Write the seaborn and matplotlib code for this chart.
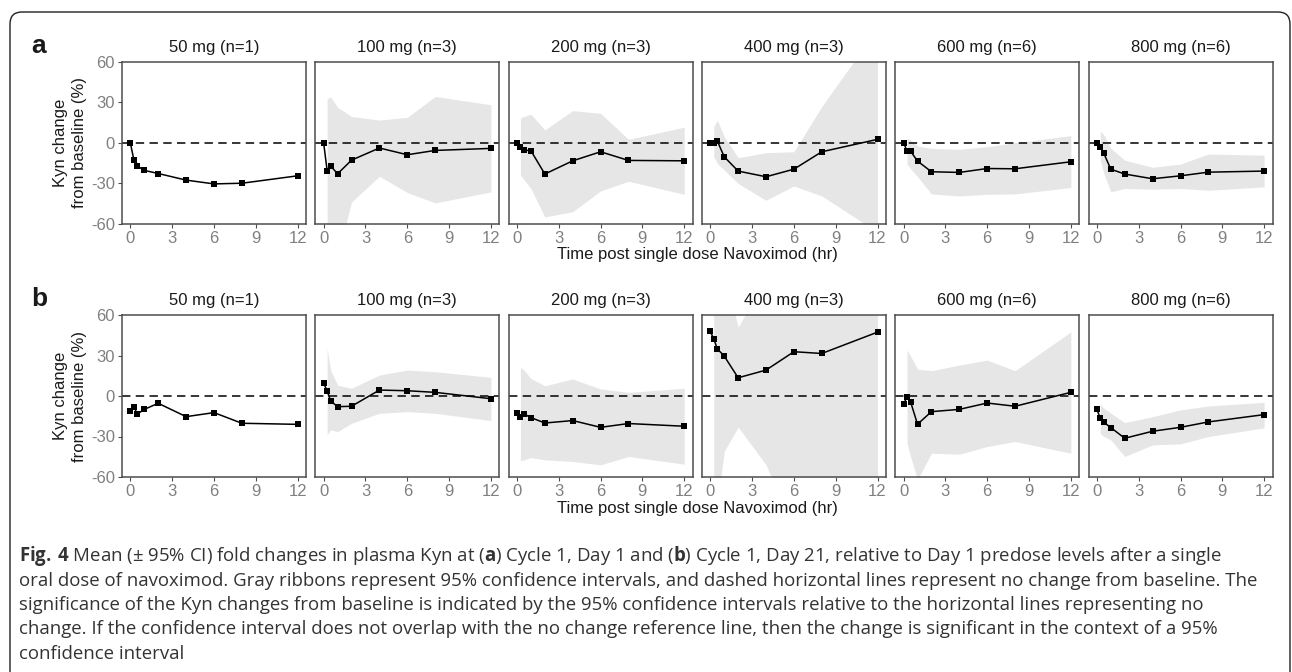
import numpy as np
import pandas as pd
import matplotlib.pyplot as plt
import seaborn as sns
from matplotlib.patches import FancyBboxPatch

# sampling times (hr) and dose groups
times = [0, 0.25, 0.5, 1, 2, 4, 6, 8, 12]
ci_times = [0.25, 0.5, 1, 2, 4, 6, 8, 12]
doses = ["50 mg (n=1)", "100 mg (n=3)", "200 mg (n=3)",
         "400 mg (n=3)", "600 mg (n=6)", "800 mg (n=6)"]

# (a) Cycle 1, Day 1 - mean % change
a_mean = [
    [0, -12.4, -17, -20.3, -22.6, -27.5, -30.3, -29.8, -24.3],
    [0, -20.6, -17, -22.8, -12.7, -3.7, -8.7, -5.5, -4],
    [0, -3, -5.2, -5.7, -23, -13.2, -6.5, -12.9, -13.2],
    [0, 0.2, 1.7, -10.2, -20.8, -25, -19.4, -6.5, 2.7],
    [0, -5.7, -6, -13.4, -21.3, -21.8, -18.9, -19.1, -13.9],
    [0, -3.2, -7.7, -19.4, -23, -26.5, -24.3, -21.6, -20.8],
]
a_lo = [
    None,
    [-100, -95, -84, -43.7, -24.6, -36.7, -44.4, -36.2],
    [-23.8, -27, -33.7, -54.8, -50.9, -35.5, -28.3, -38],
    [-10.2, -15, -20, -30, -42.4, -31.8, -39.2, -66],
    [-15.6, -19, -25, -37.7, -39.2, -38, -37.7, -33],
    [-12.7, -22.6, -36.2, -33.7, -34.2, -33.7, -35, -32.5],
]
a_hi = [
    None,
    [33, 34, 26.5, 19.6, 17, 19, 34.5, 28.3],
    [18.4, 19.6, 21.3, 9.7, 24, 22, 2.7, 11.7],
    [12, 17, 4.7, -10.9, -7.2, -6.5, 27, 85],
    [3.5, 2.2, -2.2, -4, -4.7, -2.7, 0.2, 5.5],
    [9, 6, -4, -12.7, -18, -15.6, -8.2, -9],
]

# (b) Cycle 1, Day 21 - mean % change
b_mean = [
    [-10.8, -8.1, -13.3, -9.9, -5.4, -15.3, -12.3, -20.2, -21],
    [9.4, 3.9, -3.7, -7.9, -7.6, 4.4, 3.9, 2.7, -2],
    [-12.8, -15.3, -13.3, -16, -20, -18.2, -23.2, -20.4, -22.4],
    [47.8, 42.4, 35, 29.6, 13.5, 19.2, 32.8, 31.5, 47.3],
    [-6.2, -0.5, -4.2, -20.9, -11.6, -9.9, -5.2, -7.6, 2.7],
    [-9.9, -16.5, -19.5, -23.4, -31.3, -26.1, -23.2, -19.2, -13.8],
]
b_lo = [
    None,
    [-28.8, -25, -26.4, -20.2, -12.8, -11.6, -12.8, -18.2],
    [-48, -47.3, -45.6, -47.3, -48.5, -51, -44.8, -50.5],
    [-85, -82, -41, -23, -51, -100, -100, -110],
    [-35, -44.8, -62, -42.4, -43.1, -37.4, -33.7, -42.4],
    [-28, -30, -32.5, -44.8, -36.2, -35.5, -30, -23.6],
]
b_hi = [
    None,
    [35, 19, 8, 5.7, 15.5, 19.2, 18, 13.8],
    [21.2, 19.2, 13, 7.6, 12.6, 5.2, 2.7, 5.7],
    [90, 90, 94, 51, 87, 90, 90, 100],
    [34, 29.6, 20, 18.7, 22.9, 26.6, 18.7, 47.5],
    [-6.2, -9, -12.8, -19.7, -15.3, -10.3, -7.4, -4.7],
]

caption = [
    r"$\mathbf{Fig.\,4}$ Mean (± 95% CI) fold changes in plasma Kyn at ($\mathbf{a}$) Cycle 1, Day 1 and ($\mathbf{b}$) Cycle 1, Day 21, relative to Day 1 predose levels after a single",
    "oral dose of navoximod. Gray ribbons represent 95% confidence intervals, and dashed horizontal lines represent no change from baseline. The",
    "significance of the Kyn changes from baseline is indicated by the 95% confidence intervals relative to the horizontal lines representing no",
    "change. If the confidence interval does not overlap with the no change reference line, then the change is significant in the context of a 95%",
    "confidence interval",
]

sns.set_theme(style="white")
plt.rcParams["font.family"] = ["Liberation Sans", "DejaVu Sans"]
plt.rcParams["axes.unicode_minus"] = False
plt.rcParams["mathtext.fontset"] = "custom"
plt.rcParams["mathtext.rm"] = "Open Sans"
plt.rcParams["mathtext.bf"] = "Open Sans:bold"

W, H = 1292, 672
fig = plt.figure(figsize=(W / 100, H / 100), dpi=100)

ribbon = "#e6e6e6"
spine_c = "#4d4d4d"
tick_c = "#808080"

rows = [(62, a_mean, a_lo, a_hi, "a"), (315, b_mean, b_lo, b_hi, "b")]
for top, means, los, his, letter in rows:
    for i in range(6):
        left = 122 + i * 193.3
        ax = fig.add_axes([left / W, 1 - (top + 162) / H, 184 / W, 162 / H])
        df = pd.DataFrame({"time": times, "change": means[i]})
        if los[i] is not None:
            ax.fill_between(ci_times, los[i], his[i], color=ribbon, lw=0, zorder=1)
        ax.axhline(0, color="black", ls=(0, (5.5, 3.5)), lw=1.1, zorder=2)
        sns.lineplot(data=df, x="time", y="change", ax=ax, color="black",
                     marker="s", markersize=5, markeredgewidth=0, lw=1.1, zorder=3)
        ax.set_xlim(-0.6, 12.6)
        ax.set_ylim(-60, 60)
        ax.set_xticks([0, 3, 6, 9, 12])
        ax.set_xlabel("")
        ax.set_ylabel("")
        ax.set_title(doses[i], fontsize=12, color="#1a1a1a", pad=7)
        for s in ax.spines.values():
            s.set_color(spine_c)
            s.set_linewidth(1.1)
        ax.tick_params(axis="x", direction="out", length=3, width=0.8, color=spine_c,
                       labelcolor=tick_c, labelsize=12, pad=2, bottom=True)
        if i == 0:
            ax.set_yticks([-60, -30, 0, 30, 60])
            ax.tick_params(axis="y", direction="out", length=3, width=0.8, color=spine_c,
                           labelcolor=tick_c, labelsize=12, pad=2, left=True)
        else:
            ax.set_yticks([])
    fig.text(697 / W, 1 - (top + 193) / H, "Time post single dose Navoximod (hr)",
             ha="center", va="center", fontsize=12, color="#1a1a1a")
    fig.text(70 / W, 1 - (top + 81) / H, "Kyn change\nfrom baseline (%)", rotation=90,
             ha="center", va="center", multialignment="center", fontsize=12,
             color="#1a1a1a", linespacing=1.3)
    fig.text(31 / W, 1 - (top - 9) / H, letter, fontsize=19, fontweight="bold",
             ha="left", va="baseline", color="#1a1a1a")

for k, line in enumerate(caption):
    fig.text(19 / W, 1 - (556 + k * 24.5) / H, line, ha="left", va="center",
             fontsize=13.4, family="Open Sans", color="#333333")

frame = FancyBboxPatch((0.10, -0.5), 12.80, 6.60 + 0.5, boxstyle="round,pad=0,rounding_size=0.12",
                       transform=fig.dpi_scale_trans, fill=False, ec="#231f20", lw=1.0)
fig.patches.append(frame)

fig.savefig("out.png", dpi=100)
